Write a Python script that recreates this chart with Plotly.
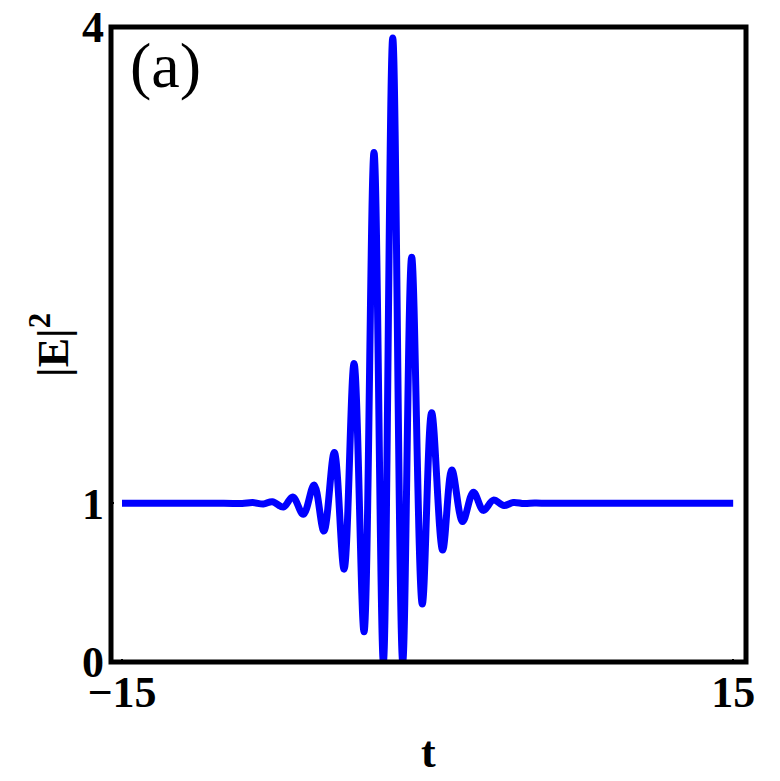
import plotly.graph_objects as go

# Values (local extrema of |E|^2 versus t)
t_vals = [-15.0, -10.0, -9.1, -8.58, -8.06, -7.62, -7.08, -6.62, -6.10, -5.57, -5.09,
          -4.58, -4.10, -3.61, -3.12, -2.63, -2.17, -1.71, -1.22, -0.78, -0.26,
          0.20, 0.74, 1.19, 1.72, 2.25, 2.74, 3.23, 3.75, 4.21, 4.74, 5.25, 6.0, 15.0]
e2_vals = [1.0, 1.0, 0.998, 1.004, 0.995, 1.01, 0.976, 1.04, 0.93, 1.115, 0.825,
           1.32, 0.585, 1.88, 0.19, 3.21, 0.0, 3.93, 0.0, 2.55, 0.365,
           1.57, 0.705, 1.21, 0.885, 1.07, 0.955, 1.02, 0.986, 1.005, 0.998, 1.001, 1.0, 1.0]

x_tickvals = [-15, 15]
x_ticktext = ["<b>\u221215</b>", "<b>15</b>"]
y_tickvals = [0, 1, 4]
y_ticktext = ["<b>0</b>", "<b>1</b>", "<b>4</b>"]

serif = "Liberation Serif"

# page has an 8px body margin; figure sized so the plot frame lands where the reference has it
W, H = 772, 773
L, T, PW, PH = 103, 19, 635, 635

fig = go.Figure()
fig.add_trace(go.Scatter(
    x=t_vals, y=e2_vals, mode="lines",
    line=dict(color="#0000ff", width=7, shape="spline", smoothing=1.0),
    showlegend=False, hoverinfo="skip",
))


def px(xp):
    return (xp - 8 - L) / PW


def py(yp):
    return 1 - (yp - 8 - T) / PH


fig.update_layout(
    width=W, height=H,
    margin=dict(l=L, r=W - L - PW, t=T, b=H - T - PH, autoexpand=False),
    paper_bgcolor="white", plot_bgcolor="white",
    xaxis=dict(range=[-15.54, 15.63], showgrid=False, zeroline=False, automargin=False,
               showline=False, tickvals=x_tickvals, ticktext=x_ticktext,
               ticks="inside", ticklen=3, tickwidth=2, tickcolor="black",
               ticklabeloverflow="allow",
               tickfont=dict(family=serif, size=44, color="black")),
    yaxis=dict(range=[0, 4], showgrid=False, zeroline=False, automargin=False,
               showline=False, tickvals=y_tickvals, ticktext=y_ticktext,
               ticks="inside", ticklen=3, tickwidth=2, tickcolor="black",
               ticklabelstandoff=6, ticklabeloverflow="allow",
               tickfont=dict(family=serif, size=44, color="black")),
    shapes=[dict(type="rect", xref="paper", yref="paper", x0=0, x1=1, y0=0, y1=1,
                 line=dict(color="black", width=5), layer="above")],
    annotations=[
        dict(text="(a)", xref="paper", yref="paper", x=px(128), y=py(65),
             xanchor="left", yanchor="middle", showarrow=False,
             font=dict(family=serif, size=64, color="black")),
        dict(text="<b>t</b>", xref="paper", yref="paper", x=px(428), y=py(752),
             xanchor="center", yanchor="middle", showarrow=False,
             font=dict(family=serif, size=44, color="black")),
        dict(text="<b>|E|<sup>2</sup></b>", xref="paper", yref="paper",
             x=px(50), y=py(345), textangle=-90,
             xanchor="center", yanchor="middle", showarrow=False,
             font=dict(family=serif, size=44, color="black")),
    ],
)
fig.write_html("out.html")
